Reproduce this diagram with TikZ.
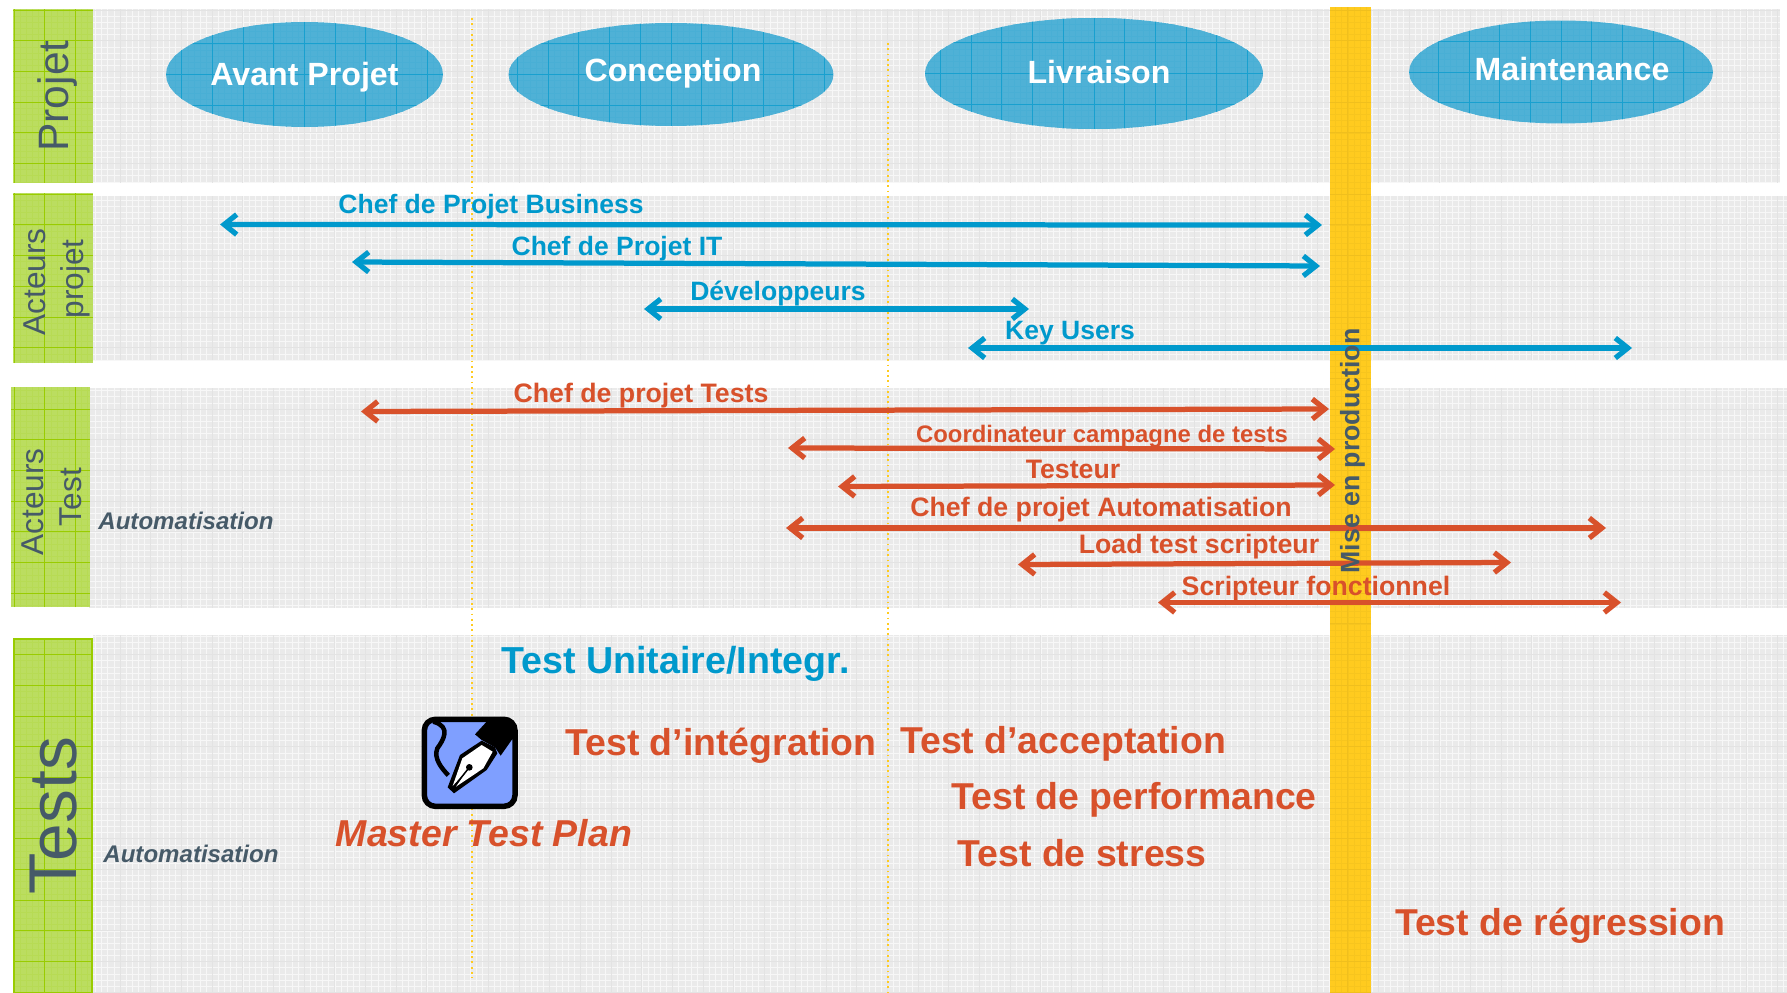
\documentclass[tikz,border=0pt]{standalone}
\usepackage{fontspec}
\setmainfont{Liberation Sans}
\usetikzlibrary{arrows.meta,shapes.geometric,positioning}

\definecolor{bandgrey}{HTML}{EAEAEA}
\definecolor{bandgreen}{HTML}{BBDD60}
\definecolor{linegreen}{HTML}{99CC00}
\definecolor{phaseblue}{HTML}{4FB1D6}
\definecolor{actorblue}{HTML}{0099CC}
\definecolor{actorred}{HTML}{D8512B}
\definecolor{prodyellow}{HTML}{FFCB1F}
\definecolor{slategrey}{HTML}{465A68}
\definecolor{penblue}{HTML}{7F9FFF}

\newcommand{\gridon}[4]{%
  \draw[shift={(#3,#4)},#1,line width=.3pt,step=.1228cm] (path picture bounding box.south west) grid (path picture bounding box.north east);
  \draw[shift={(#3,#4)},#2,line width=.5pt,step=.614cm] (path picture bounding box.south west) grid (path picture bounding box.north east);}

\tikzset{
  greyband/.style={fill=bandgrey,path picture={\gridon{black!3}{black!11}{27.9}{10}}},
  greenband/.style={fill=bandgreen,path picture={\gridon{linegreen!12!bandgreen}{linegreen}{14}{10}}},
  prodband/.style={fill=prodyellow,path picture={\gridon{prodyellow!97!black}{prodyellow!94!black}{27.9}{10}}},
  phase/.style={ellipse,inner sep=0pt,fill=phaseblue,path picture={\gridon{phaseblue!92!actorblue}{actorblue!70!phaseblue}{14}{22}}},
  phasetext/.style={text=white,font=\fontsize{18.3}{20}\selectfont\bfseries},
  bandtext/.style={rotate=90,align=center,text=slategrey},
  phaseline/.style={prodyellow,line width=1pt,dotted},
  actorline/.style={line width=.105cm,{Straight Barb[length=.25cm,width=.4cm]}-{Straight Barb[length=.25cm,width=.4cm]}},
  blueline/.style={actorline,actorblue},
  redline/.style={actorline,actorred},
  bluetext/.style={text=actorblue,font=\fontsize{15.1}{17}\selectfont\bfseries},
  redtext/.style={text=actorred,font=\fontsize{#1}{#1}\selectfont\bfseries},
  autotext/.style={text=slategrey,font=\fontsize{13.7}{15}\selectfont\bfseries\itshape},
}

\begin{document}
\begin{tikzpicture}[x=.02cm,y=-.02cm]
  \useasboundingbox (0,0) rectangle (1787,993);

  % bands
  \path[greyband] (93,9) rectangle (1780,183);
  \path[greyband] (93,196) rectangle (1787,360);
  \path[greyband] (89,388) rectangle (1787,608);
  \path[greyband] (93,635) rectangle (1787,993);
  \path[greenband] (13,9) rectangle (93,183);
  \path[greenband] (13,193) rectangle (93,363);
  \path[greenband] (11,387) rectangle (90,607);
  \path[greenband,draw=linegreen,line width=1.6pt] (14,639) rectangle (92,993);

  \node[bandtext,font=\fontsize{24.2}{26}\selectfont] (projet) at (57.5,96) {Projet};
  \node[bandtext,font=\fontsize{18}{21.5}\selectfont] (acteursprojet) at (57,282) {Acteurs\\\hspace*{.12cm}projet};
  \node[bandtext,font=\fontsize{18}{21.5}\selectfont] (acteurstest) at (52,502) {Acteurs\\\hspace*{.2cm}Test};
  \node[bandtext,font=\fontsize{38.5}{40}\selectfont] (tests) at (54,816) {Tests};

  % phases
  \draw[phaseline] (472,18) -- (472,978);
  \draw[phaseline] (888,43) -- (888,993);

  \node[phase,minimum width=5.54cm,minimum height=2.1cm,label={[phasetext,yshift=-.05cm]center:Avant Projet}] (avant) at (304.5,74.5) {};
  \node[phase,minimum width=6.5cm,minimum height=2.06cm,label={[phasetext,xshift=.04cm,yshift=.02cm]center:Conception}] (conception) at (671,74.5) {};
  \node[phase,minimum width=6.76cm,minimum height=2.22cm,label={[phasetext,xshift=.1cm,yshift=.02cm]center:Livraison}] (livraison) at (1094,73.5) {};
  \node[phase,minimum width=6.08cm,minimum height=2.06cm,label={[phasetext,xshift=.22cm,yshift=.06cm]center:Maintenance}] (maintenance) at (1561,72) {};

  \path[prodband] (1330,7) rectangle (1371,993);

  % actors
  \coordinate (bizA) at (220,224.5);
  \coordinate (bizB) at (1322,225);
  \coordinate (itA) at (352,262);
  \coordinate (itB) at (1320,266);
  \coordinate (devA) at (644,309);
  \coordinate (devB) at (1029,309);
  \coordinate (keyA) at (968,348);
  \coordinate (keyB) at (1632,348);
  \coordinate (ctA) at (361,411.5);
  \coordinate (ctB) at (1329,409);
  \coordinate (coA) at (788,448);
  \coordinate (coB) at (1335,449);
  \coordinate (teA) at (838,486.5);
  \coordinate (teB) at (1335,485);
  \coordinate (caA) at (786,528);
  \coordinate (caB) at (1606,528);
  \coordinate (ltA) at (1018,564.5);
  \coordinate (ltB) at (1511,562.5);
  \coordinate (sfA) at (1158,602.5);
  \coordinate (sfB) at (1621,602.5);

  \draw[blueline] (bizA) -- (bizB);
  \draw[blueline] (itA) -- (itB);
  \draw[blueline] (devA) -- (devB);
  \draw[blueline] (keyA) -- (keyB);
  \draw[redline] (ctA) -- (ctB);
  \draw[redline] (coA) -- (coB);
  \draw[redline] (teA) -- (teB);
  \draw[redline] (caA) -- (caB);
  \draw[redline] (ltA) -- (ltB);
  \draw[redline] (sfA) -- (sfB);

  \node[bandtext,font=\fontsize{15.2}{17}\selectfont\bfseries] (prod) at (1352.5,451) {Mise en production};

  \node[bluetext] (bizlabel) at (491,206.5) {Chef de Projet Business};
  \node[bluetext] (itlabel) at (617,248.5) {Chef de Projet IT};
  \node[bluetext] (devlabel) at (778,294) {Développeurs};
  \node[bluetext] (keylabel) at (1070,333) {Key Users};

  \node[redtext=15.2] (ctlabel) at (641,396) {Chef de projet Tests};
  \node[redtext=13.6] (colabel) at (1102,436) {Coordinateur campagne de tests};
  \node[redtext=15.2] (telabel) at (1073,469) {Testeur};
  \node[redtext=15.2] (calabel) at (1101,509.5) {Chef de projet Automatisation};
  \node[redtext=15.2] (ltlabel) at (1199,546.5) {Load test scripteur};
  \node[redtext=15.2] (sflabel) at (1316,589) {Scripteur fonctionnel};

  \node[autotext] (autoactors) at (186,521) {Automatisation};
  \node[autotext] (autotests) at (191,854) {Automatisation};

  % tests
  \node[bluetext,font=\fontsize{21.4}{23}\selectfont\bfseries] (unit) at (675.5,663.5) {Test Unitaire/Integr.};
  \node[redtext=21.3] (integ) at (721,745.5) {Test d’intégration};
  \node[redtext=21.3] (accept) at (1063,743.5) {Test d’acceptation};
  \node[redtext=21.3] (perf) at (1134,799.5) {Test de performance};
  \node[redtext=21.3] (stress) at (1082,853) {Test de stress};
  \node[redtext=21.3] (regress) at (1560,925.5) {Test de régression};
  \node[redtext=21.3,font=\fontsize{21.3}{24}\selectfont\bfseries\itshape] (plan) at (484,833) {Master Test Plan};

  % pen icon
  \begin{scope}[shift={(380,690)},x=.00667cm,y=-.00667cm]
    \fill[penblue,rounded corners=.22cm] (133,88) rectangle (405,349);
    \begin{scope}
      \clip[rounded corners=.22cm] (133,88) rectangle (405,349);
      \fill (285,133) -- (318,97) -- (330,80) -- (415,80) -- (415,135) -- (395,150) -- (362,197) -- (345,172) -- (305,150) -- cycle;
    \end{scope}
    \draw[line width=.09cm] (160,95) .. controls (215,110) and (190,150) .. (172,175) .. controls (160,205) and (185,235) .. (205,256);
    \fill (203,292) -- (240,195) -- (305,152) -- (345,172) -- (352,190) -- (320,240) -- (222,310) -- cycle;
    \fill[white] (218,288) -- (247,205) -- (305,165) -- (338,185) -- (310,235) -- (228,290) -- (262,240) -- cycle;
    \fill (268,232) circle (10);
    \draw[line width=.03cm] (268,232) -- (222,290);
    \draw[line width=.11cm,rounded corners=.22cm] (133,88) rectangle (405,349);
  \end{scope}
\end{tikzpicture}
\end{document}
